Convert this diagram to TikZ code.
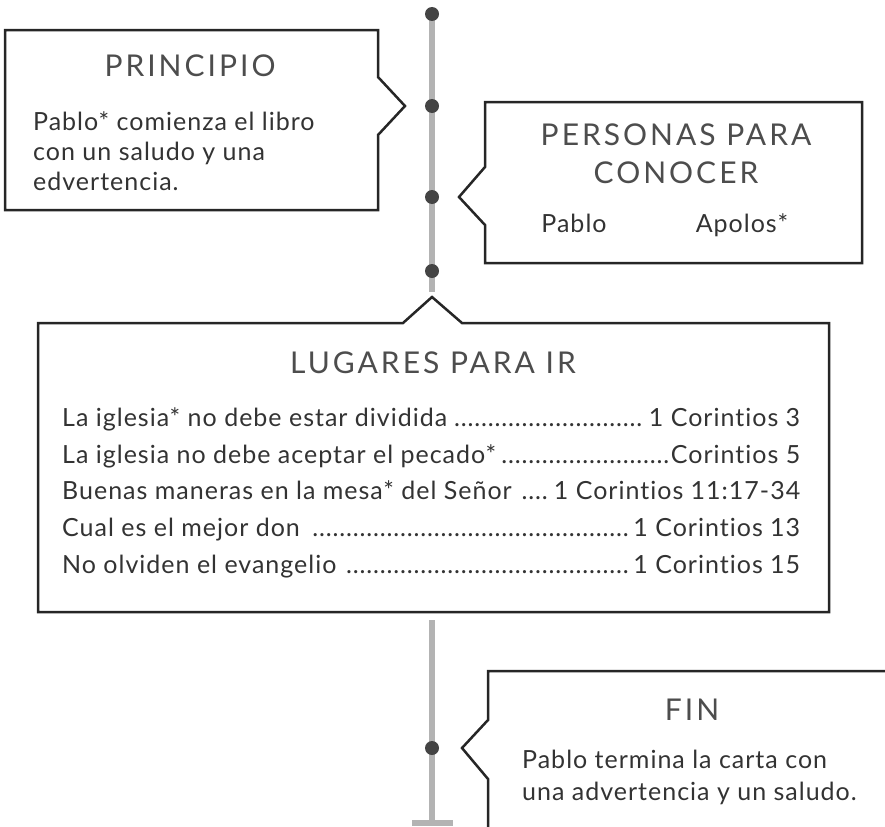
\documentclass[tikz,border=0pt]{standalone}
\usepackage{fontspec}
\setmainfont{Lato}[LetterSpace=4, Ligatures=NoCommon]
\newfontfamily\headfont[LetterSpace=10, Ligatures=NoCommon]{Lato}
\usetikzlibrary{positioning}

\definecolor{railgray}{HTML}{B3B3B3}
\definecolor{dotgray}{HTML}{444444}
\definecolor{headgray}{HTML}{4D4D4D}
\definecolor{bodygray}{HTML}{333333}

% one row of the list, with a dotted leader
\newcommand{\placerow}[2]{\hbox to 738bp{#1\leaders\hbox to 0.27em{\hss.\hss}\hfill#2}}

\begin{document}
\begin{tikzpicture}[
    x=1bp, y=-1bp,
    rail/.style={draw=railgray, line width=5.5bp},
    stop/.style={circle, fill=dotgray, inner sep=0pt, minimum size=14bp},
    callout/.style={draw=black!85, line width=2.5bp, fill=white, line join=miter},
    head/.style={font=\headfont\fontsize{30bp}{38bp}\selectfont, text=headgray,
                 inner sep=0pt, align=center},
    body/.style={font=\fontsize{25bp}{32bp}\selectfont, text=bodygray,
                 inner sep=0pt, anchor=base west}
]
  \useasboundingbox (0,0) rectangle (885,827);

  % Timeline
  \coordinate (r1) at (432,14);
  \coordinate (r2) at (432,106);
  \coordinate (r3) at (432,197);
  \coordinate (r4) at (432,271);
  \coordinate (railtop) at (432,292);
  \coordinate (railbot) at (432,620);
  \coordinate (r5) at (432,748);
  \coordinate (railend) at (432,823);
  \draw[rail] (r1) -- (railtop);
  \draw[rail] (railbot) -- (railend);
  \draw[rail] ([xshift=-20bp]railend) -- ([xshift=21bp]railend);
  \foreach \s in {1,...,5}
    \node[stop] (stop\s) at (r\s) {};

  % Principio
  \draw[callout] (5,30) -- (378,30) -- (378,77) -- (405,106) -- (378,135)
    -- (378,210) -- (5,210) -- cycle;
  \node[head] (principio) at (190,66) {PRINCIPIO};
  \node[body] (principio1) at (33,130) {Pablo* comienza el libro};
  \node[body] (principio2) at (33,160) {con un saludo y una};
  \node[body] (principio3) at (33,190) {edvertencia.};

  % Personas para conocer
  \draw[callout] (485,102) -- (862,102) -- (862,263) -- (485,263) -- (485,225)
    -- (459,197) -- (485,167) -- cycle;
  \node[head] (personas) at (676,154) {PERSONAS PARA\\CONOCER};
  \node[body, anchor=base] (pablo) at (574,232) {Pablo};
  \node[body, anchor=base] (apolos) at (742,232) {Apolos*};

  % Lugares para ir
  \draw[callout] (38,323) -- (403,323) -- (432,297) -- (462,323) -- (829,323)
    -- (829,612) -- (38,612) -- cycle;
  \node[head, anchor=base] (lugares) at (433,373) {LUGARES PARA IR};
  \node[body] (lugar1) at (62,426)
    {\placerow{La iglesia* no debe estar dividida}{1 Corintios 3}};
  \node[body] (lugar2) at (62,463)
    {\placerow{La iglesia no debe aceptar el pecado*}{Corintios 5}};
  \node[body] (lugar3) at (62,499)
    {\placerow{Buenas maneras en la mesa* del Señor }{1 Corintios 11:17-34}};
  \node[body] (lugar4) at (62,536)
    {\placerow{Cual es el mejor don }{1 Corintios 13}};
  \node[body] (lugar5) at (62,573)
    {\placerow{No olviden el evangelio }{1 Corintios 15}};

  % Fin
  \draw[callout] (890,671) -- (488,671) -- (488,720) -- (462,748) -- (488,779)
    -- (488,832);
  \node[head] (fin) at (692,710) {FIN};
  \node[body] (fin1) at (522,768) {Pablo termina la carta con};
  \node[body] (fin2) at (522,800) {una advertencia y un saludo.};
\end{tikzpicture}
\end{document}
